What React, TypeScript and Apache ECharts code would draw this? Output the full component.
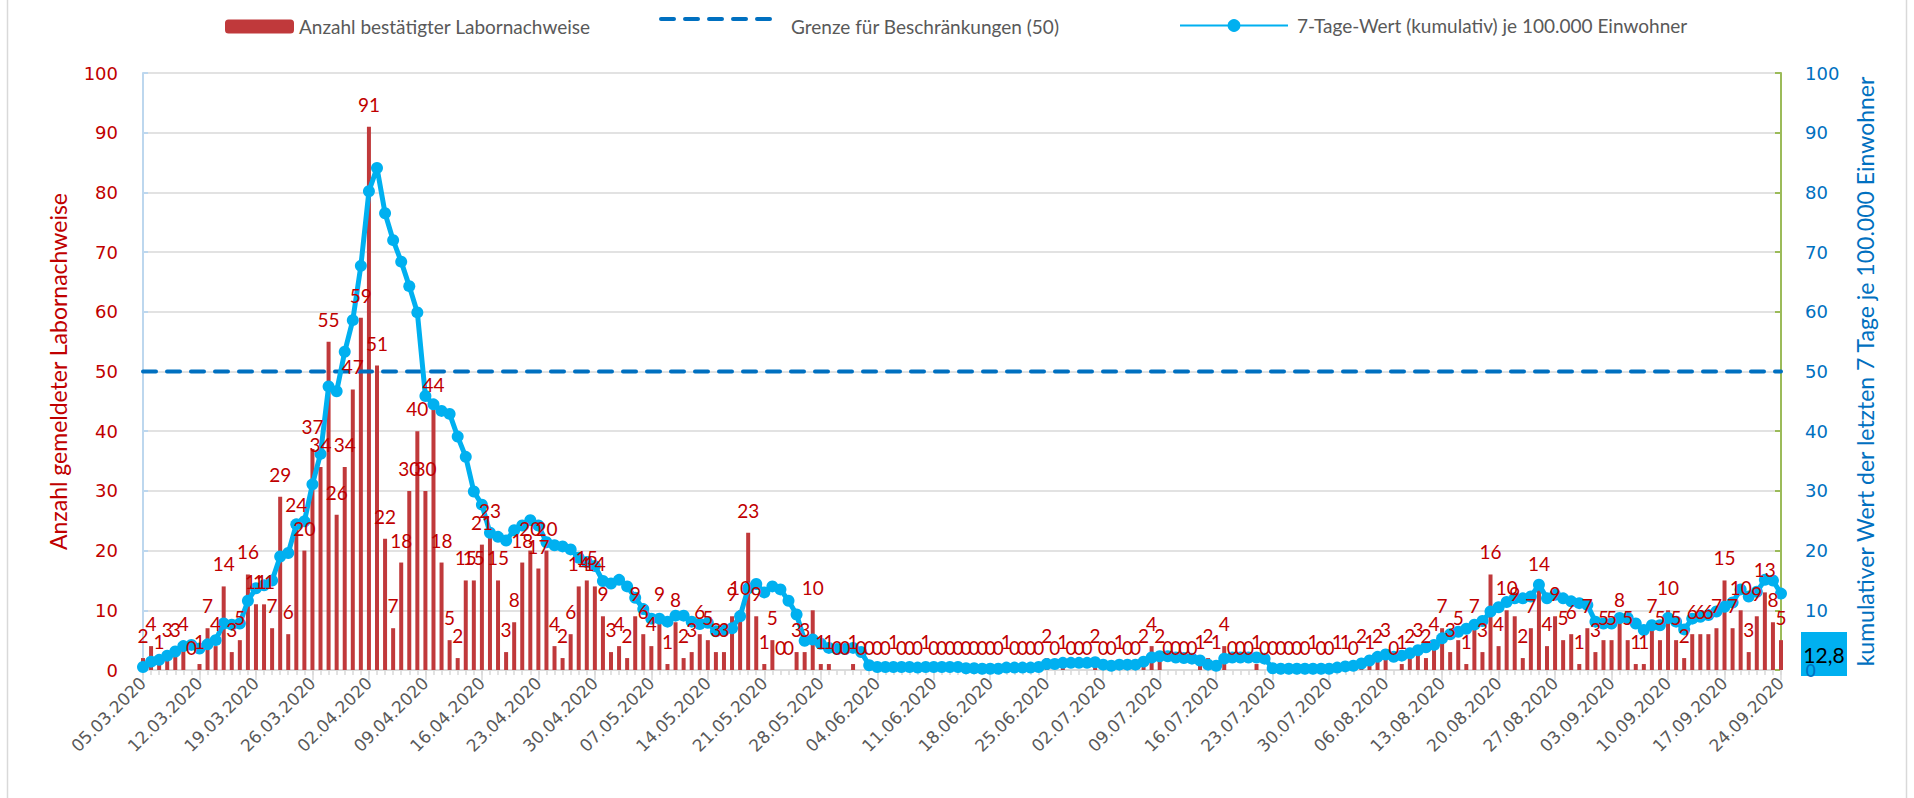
import React, { useEffect, useRef } from "react";
import * as echarts from "echarts";

// Calendar categories: 05.03.2020 ... 24.09.2020 (one per day)
const START_DAY = Date.UTC(2020, 2, 5);
const DAY_COUNT = 204;
const dates: string[] = Array.from({ length: DAY_COUNT }, (_, k) => {
  const d = new Date(START_DAY + k * 86400000);
  const dd = String(d.getUTCDate()).padStart(2, "0");
  const mm = String(d.getUTCMonth() + 1).padStart(2, "0");
  return `${dd}.${mm}.${d.getUTCFullYear()}`;
});

// Anzahl bestätigter Labornachweise (daily)
const cases: number[] = [
  2, 4, 1, 3, 3, 4, 0, 1, 7, 4, 14, 3, 5, 16, 11, 11, 7, 29, 6, 24,
  20, 37, 34, 55, 26, 34, 47, 59, 91, 51, 22, 7, 18, 30, 40, 30, 44, 18, 5, 2,
  15, 15, 21, 23, 15, 3, 8, 18, 20, 17, 20, 4, 2, 6, 14, 15, 14, 9, 3, 4,
  2, 9, 6, 4, 9, 1, 8, 2, 3, 6, 5, 3, 3, 9, 10, 23, 9, 1, 5, 0,
  0, 3, 3, 10, 1, 1, 0, 0, 1, 0, 0, 0, 0, 1, 0, 0, 0, 1, 0, 0,
  0, 0, 0, 0, 0, 0, 0, 1, 0, 0, 0, 0, 2, 0, 1, 0, 0, 0, 2, 0,
  0, 1, 0, 0, 2, 4, 2, 0, 0, 0, 0, 1, 2, 1, 4, 0, 0, 0, 1, 0,
  0, 0, 0, 0, 0, 1, 0, 0, 1, 1, 0, 2, 1, 2, 3, 0, 1, 2, 3, 2,
  4, 7, 3, 5, 1, 7, 3, 16, 4, 10, 9, 2, 7, 14, 4, 9, 5, 6, 1, 7,
  3, 5, 5, 8, 5, 1, 1, 7, 5, 10, 5, 2, 6, 6, 6, 7, 15, 7, 10, 3,
  9, 13, 8, 5,
];

// 7-Tage-Wert (kumulativ) je 100.000 Einwohner
const incidence: number[] = [
  0.5, 1.4, 1.7, 2.4, 3.1, 4.0, 4.2, 3.6, 4.3, 5.0, 7.8, 7.6, 7.8, 11.6, 13.7, 14.2, 15.0, 19.0, 19.6, 24.4,
  24.9, 31.1, 36.2, 47.5, 46.7, 53.3, 58.6, 67.7, 80.2, 84.1, 76.5, 72.0, 68.4, 64.3, 59.9, 45.9, 44.5, 43.4, 42.9, 39.1,
  35.7, 29.9, 27.7, 23.0, 22.3, 21.7, 23.4, 24.2, 25.1, 24.2, 21.4, 20.9, 20.7, 20.2, 18.8, 18.1, 17.4, 14.9, 14.5, 15.1,
  14.0, 12.1, 10.2, 8.6, 8.6, 8.1, 9.1, 9.1, 8.1, 7.7, 7.9, 6.5, 6.7, 7.0, 9.0, 13.7, 14.4, 13.0, 14.0, 13.5,
  11.6, 9.3, 4.9, 5.1, 4.4, 3.7, 3.5, 3.5, 3.7, 3.0, 0.8, 0.5, 0.5, 0.5, 0.5, 0.5, 0.4, 0.5, 0.5, 0.5,
  0.5, 0.5, 0.3, 0.3, 0.2, 0.2, 0.2, 0.4, 0.4, 0.4, 0.4, 0.5, 1.0, 1.0, 1.2, 1.2, 1.2, 1.2, 1.3, 0.9,
  0.7, 0.9, 0.9, 0.9, 1.4, 2.1, 2.3, 2.3, 2.1, 2.0, 1.9, 1.6, 0.9, 0.7, 1.9, 2.1, 2.1, 2.1, 2.1, 1.9,
  0.3, 0.2, 0.2, 0.2, 0.2, 0.2, 0.2, 0.2, 0.4, 0.6, 0.7, 1.1, 1.6, 2.2, 2.6, 2.2, 2.4, 2.8, 3.3, 3.8,
  4.2, 5.3, 6.0, 6.4, 6.9, 7.6, 8.2, 9.8, 10.5, 11.4, 12.0, 12.0, 12.3, 14.3, 12.0, 12.6, 12.0, 11.5, 11.2, 10.9,
  8.1, 7.8, 7.8, 8.7, 8.7, 7.8, 6.7, 7.5, 7.5, 8.7, 8.1, 6.8, 8.6, 8.9, 9.2, 9.8, 10.6, 11.3, 13.5, 12.3,
  13.1, 15.1, 15.0, 12.8,
];

const LIMIT = 50;
const limitLine: number[] = dates.map(() => LIMIT);
const LAST_VALUE_TEXT = "12,8";

const NAME_CASES = "Anzahl bestätigter Labornachweise";
const NAME_LIMIT = "Grenze für Beschränkungen (50)";
const NAME_INC = "7-Tage-Wert (kumulativ) je 100.000 Einwohner";

export default function App() {
  const ref = useRef<HTMLDivElement>(null);
  useEffect(() => {
    if (!ref.current) return;
    const chart = echarts.init(ref.current, null, { renderer: "svg" });
    const legendText = { color: "#595959", fontFamily: "Lato", fontSize: 19 };
    chart.setOption({
      animation: false,
      backgroundColor: "#ffffff",
      grid: { left: 143, right: 133, top: 73, bottom: 128, containLabel: false },
      legend: [
        {
          data: [NAME_CASES], left: 220, top: 12, itemWidth: 69, itemHeight: 14,
          textStyle: legendText, selectedMode: false,
        },
        {
          data: [{ name: NAME_LIMIT, icon: "none" }], left: 659, top: 12, itemWidth: 116, itemHeight: 14,
          textStyle: { ...legendText, padding: [0, 0, 0, 6] }, selectedMode: false,
        },
        {
          data: [NAME_INC], left: 1174, top: 11, itemWidth: 108, itemHeight: 16,
          textStyle: { ...legendText, padding: [0, 0, 0, 4] }, selectedMode: false,
        },
      ],
      xAxis: [
        {
          type: "category", data: dates, boundaryGap: false,
          axisLine: { lineStyle: { color: "#D9D9D9", width: 1.5 } },
          axisTick: { interval: 0, length: 5, lineStyle: { color: "#D9D9D9", width: 1.5 } },
          axisLabel: {
            interval: 6, rotate: 45, margin: 10, color: "#595959",
            fontFamily: "DejaVu Sans", fontSize: 17,
          },
          splitLine: { show: false },
        },
        {
          type: "category", data: dates, boundaryGap: false, position: "bottom",
          axisLine: { show: false },
          axisTick: { interval: 6, length: 10, lineStyle: { color: "#D9D9D9", width: 1.5 } },
          axisLabel: { show: false },
          splitLine: { show: false },
        },
      ],
      yAxis: [
        {
          type: "value", min: 0, max: 100, interval: 10,
          name: "Anzahl gemeldeter Labornachweise", nameLocation: "middle", nameGap: 74,
          nameTextStyle: { color: "#C00000", fontFamily: "Lato", fontSize: 23 },
          axisLine: { show: true, lineStyle: { color: "#BDD7EE", width: 2 } },
          axisTick: { show: true, inside: true, length: 5, lineStyle: { color: "#BDD7EE", width: 2 } },
          axisLabel: { color: "#C00000", fontFamily: "DejaVu Sans", fontSize: 18, margin: 25 },
          splitLine: { show: true, lineStyle: { color: "#D9D9D9", width: 1.5 } },
        },
        {
          type: "value", min: 0, max: 100, interval: 10, position: "right",
          name: "kumulativer Wert der letzten 7 Tage je 100.000 Einwohner",
          nameLocation: "middle", nameGap: 72,
          nameTextStyle: { color: "#0070C0", fontFamily: "Lato", fontSize: 23 },
          axisLine: { show: true, lineStyle: { color: "#9BBB59", width: 2 } },
          axisTick: { show: true, inside: true, length: 6, lineStyle: { color: "#9BBB59", width: 2 } },
          axisLabel: { color: "#0070C0", fontFamily: "DejaVu Sans", fontSize: 18, margin: 24 },
          splitLine: { show: false },
        },
      ],
      series: [
        {
          name: NAME_CASES, type: "bar", data: cases, barWidth: 4,
          itemStyle: { color: "#C0393B" }, z: 2,
        },
        {
          name: NAME_LIMIT, type: "line", data: limitLine, symbol: "none",
          lineStyle: { color: "#0070C0", width: 4, type: [13, 11], cap: "round" },
          itemStyle: { color: "#0070C0" }, z: 3,
        },
        {
          name: NAME_INC, type: "line", yAxisIndex: 1, data: incidence,
          symbol: "circle", symbolSize: 12, showAllSymbol: true,
          lineStyle: { color: "#00B0F0", width: 5 },
          itemStyle: { color: "#00B0F0" }, z: 4,
        },
        {
          name: "labels", type: "bar", data: cases, barWidth: 4, barGap: "-100%",
          itemStyle: { color: "rgba(0,0,0,0)" }, silent: true, z: 10,
          label: {
            show: true, position: "top", distance: 13,
            color: "#C00000", fontFamily: "Lato", fontSize: 19,
          },
        },
      ],
      graphic: [
        {
          type: "rect", silent: true, z: -10,
          shape: { x: 7.5, y: -2, width: 1899, height: 802 },
          style: { fill: "none", stroke: "#D9D9D9", lineWidth: 1.5 },
        },
        {
          type: "line", silent: true, z: 50,
          shape: { x1: 661, y1: 19, x2: 773, y2: 19 },
          style: { stroke: "#0070C0", lineWidth: 4, lineDash: [13, 11], lineCap: "round" },
        },
        {
          type: "group", z: 100,
          children: [
            {
              type: "rect", shape: { x: 1801, y: 632, width: 46, height: 44 },
              style: { fill: "#00B0F0" },
            },
            {
              type: "text", x: 1824, y: 654,
              style: {
                text: LAST_VALUE_TEXT, fill: "#000000", font: "21px Lato",
                align: "center", verticalAlign: "middle",
              },
            },
          ],
        },
      ],
    });
    return () => chart.dispose();
  }, []);
  return (
    <div
      ref={ref}
      style={{ position: "fixed", left: 0, top: 0, width: 1914, height: 798 }}
    />
  );
}
